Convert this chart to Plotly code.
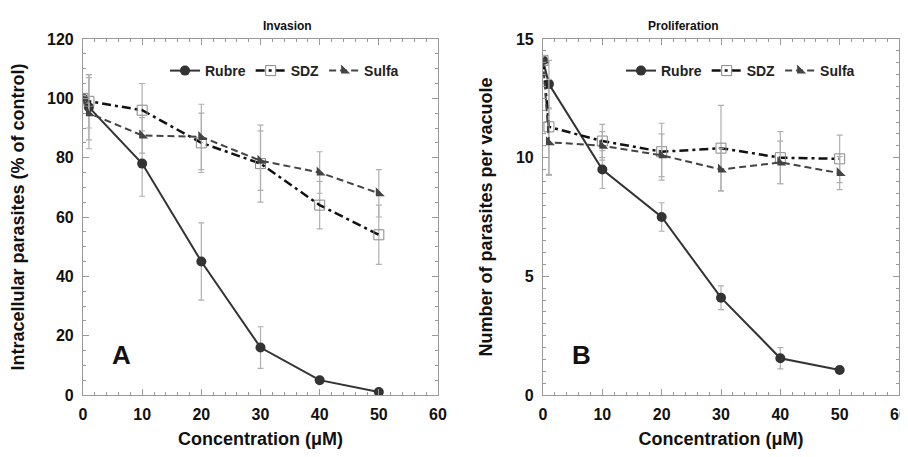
import plotly.graph_objects as go

conc = [0, 1, 10, 20, 30, 40, 50]

# Panel A: Invasion (% of control)
inv_rubre = [100, 97, 78, 45, 16, 5, 1]
inv_rubre_err = [1, 11, 11, 13, 7, 0.6, 0.5]
inv_sdz = [100, 99, 96, 85, 78, 64, 54]
inv_sdz_err = [1, 9, 9, 10, 13, 8, 10]
inv_sulfa = [100, 95, 87.5, 87, 79, 75, 68]
inv_sulfa_err = [1, 12, 6, 11, 10, 7, 8]

# Panel B: Proliferation (parasites per vacuole)
pro_rubre = [14.1, 13.1, 9.5, 7.5, 4.1, 1.55, 1.05]
pro_rubre_err = [0.2, 1.0, 0.8, 0.6, 0.5, 0.45, 0.05]
pro_sdz = [14.1, 11.3, 10.7, 10.25, 10.4, 10.0, 9.95]
pro_sdz_err = [0.2, 2.0, 0.7, 1.2, 1.8, 1.1, 1.0]
pro_sulfa = [14.1, 10.65, 10.5, 10.1, 9.5, 9.8, 9.35]
pro_sulfa_err = [0.2, 1.4, 0.6, 0.9, 0.9, 0.9, 0.7]

FONT = "Liberation Sans, Arial, sans-serif"
ERR = dict(type="data", color="#b0b0b0", thickness=1.2, width=3)

styles = {
    "Rubre": dict(line=dict(color="#333333", width=2), marker=dict(symbol="circle", size=10, color="#333333")),
    "SDZ": dict(line=dict(color="#111111", width=2.5, dash="9px,4px,3px,4px"),
                marker=dict(symbol="square-open", size=10, color="#888888", line=dict(width=1))),
    "Sulfa": dict(line=dict(color="#444444", width=2, dash="7px,4px"),
                  marker=dict(symbol="triangle-sw", size=10, color="#444444")),
}

fig = go.Figure()

def add(name, y, err, xa, ya, legend):
    st = styles[name]
    fig.add_trace(go.Scatter(
        x=conc, y=y, name=name, mode="lines+markers",
        error_y=dict(array=err, **ERR),
        line=st["line"], marker=st["marker"],
        xaxis=xa, yaxis=ya, legend=legend,
    ))

add("Rubre", inv_rubre, inv_rubre_err, "x", "y", "legend")
add("SDZ", inv_sdz, inv_sdz_err, "x", "y", "legend")
add("Sulfa", inv_sulfa, inv_sulfa_err, "x", "y", "legend")
add("Rubre", pro_rubre, pro_rubre_err, "x2", "y2", "legend2")
add("SDZ", pro_sdz, pro_sdz_err, "x2", "y2", "legend2")
add("Sulfa", pro_sulfa, pro_sulfa_err, "x2", "y2", "legend2")

# page body has an 8px margin, so the figure is 8px smaller and shifted
OFF = 8
W, H = 908 - OFF, 457 - OFF
L, R, T, B = 83 - OFF, W - (899 - OFF), 39 - OFF, H - (395 - OFF)
PW, PH = W - L - R, H - T - B

def px(x):
    return (x - OFF - L) / PW

def py(y):
    return (H - B - (y - OFF)) / PH

axis_common = dict(
    showgrid=False, zeroline=False, showline=True, linecolor="#9a9a9a", linewidth=1.2,
    mirror="allticks", ticks="inside", ticklen=6, tickcolor="#9a9a9a", tickwidth=1,
    automargin=False, ticklabelstandoff=5,
    tickfont=dict(family=FONT, size=16, color="#111", weight="bold"),
)
title_font = dict(family=FONT, size=18, color="#111", weight="bold")
xcommon = dict(range=[0, 60], dtick=10, tick0=0,
               minor=dict(dtick=2, ticks="inside", ticklen=3, tickcolor="#9a9a9a"),
               title=dict(text="Concentration (μM)", font=title_font, standoff=10),
               **axis_common)

fig.update_layout(
    width=W, height=H,
    margin=dict(l=L, r=R, t=T, b=B, autoexpand=False),
    paper_bgcolor="white", plot_bgcolor="white",
    xaxis=dict(domain=[0, px(438)], anchor="y", **xcommon),
    xaxis2=dict(domain=[px(543), 1], anchor="y2", **xcommon),
    yaxis=dict(domain=[0, 1], anchor="x", range=[0, 120], dtick=20,
               minor=dict(dtick=5, ticks="inside", ticklen=3, tickcolor="#9a9a9a"),
               title=dict(text="Intracellular parasites (% of control)", font=title_font, standoff=18),
               **axis_common),
    yaxis2=dict(domain=[0, 1], anchor="x2", range=[0, 15], dtick=5,
                minor=dict(dtick=0.5, ticks="inside", ticklen=3, tickcolor="#9a9a9a"),
                title=dict(text="Number of parasites per vacuole", font=title_font, standoff=18),
                **axis_common),
    legend=dict(orientation="h", x=px(165), y=py(71), xanchor="left", yanchor="middle",
                font=dict(family=FONT, size=14, color="#222", weight="bold"),
                bgcolor="rgba(0,0,0,0)", itemwidth=30, tracegroupgap=0),
    legend2=dict(orientation="h", x=px(621), y=py(71), xanchor="left", yanchor="middle",
                 font=dict(family=FONT, size=14, color="#222", weight="bold"),
                 bgcolor="rgba(0,0,0,0)", itemwidth=30, tracegroupgap=0),
    annotations=[
        dict(text="Invasion", x=px((83 + 438) / 2), y=py(17), xref="paper", yref="paper",
             showarrow=False, font=dict(family=FONT, size=12, color="#111", weight="bold")),
        dict(text="Proliferation", x=px((543 + 899) / 2), y=py(17), xref="paper", yref="paper",
             showarrow=False, font=dict(family=FONT, size=12, color="#111", weight="bold")),
        dict(text="A", x=6.5, y=13.5, xref="x", yref="y", showarrow=False,
             font=dict(family=FONT, size=26, color="#111", weight="bold")),
        dict(text="B", x=6.5, y=1.7, xref="x2", yref="y2", showarrow=False,
             font=dict(family=FONT, size=26, color="#111", weight="bold")),
    ],
)

fig.write_html("out.html")
